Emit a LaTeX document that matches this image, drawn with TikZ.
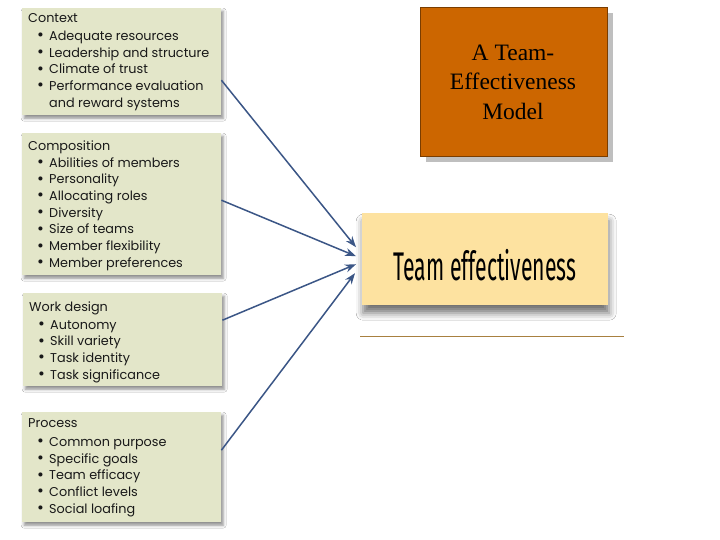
\documentclass[tikz,border=0pt]{standalone}
\usepackage{fontspec}
\usepackage{graphicx}
\setmainfont{Liberation Serif}
\newfontfamily\boxfont{Poppins}
\newfontfamily\tefont{Fira Sans}
\usetikzlibrary{shadows,shadows.blur,arrows.meta,calc}
\definecolor{gboxc}{HTML}{E3E6C9}
\definecolor{tebox}{HTML}{FDE2A0}
\definecolor{titlec}{HTML}{CC6600}
\definecolor{titleb}{HTML}{7A3D00}
\definecolor{arrc}{HTML}{3B5686}
\definecolor{rulec}{HTML}{A88040}
\newcommand\itm[1]{\hspace*{9pt}\makebox[12pt][l]{\raisebox{-0.4pt}{\scalebox{1.3}{\textbullet}}}#1}
\newcommand\cnt[1]{\hspace*{21pt}#1}
\begin{document}
\begin{tikzpicture}[x=1pt,y=-1pt,
  gbox/.style={rectangle,fill=gboxc,inner sep=0pt,anchor=north west,
    blur shadow={shadow xshift=2pt,shadow yshift=-3pt,shadow blur radius=3pt,shadow opacity=45}},
  gtext/.style={anchor=north west,inner sep=0pt,align=left,text=black!90,
    font=\boxfont\fontsize{12.8}{16.7}\selectfont},
  arr/.style={draw=arrc,line width=1.5pt,-{Stealth[length=11pt,width=8pt]}}]
\useasboundingbox (0,0) rectangle (720,540);
\fill[white] (0,0) rectangle (720,540);
% title box
\fill[black!25] (426,13) rectangle (613,162);
\node[rectangle,fill=titlec,draw=titleb,line width=0.6pt,anchor=north west,
  minimum width=187pt,minimum height=149pt,inner sep=0pt] (title) at (420,7) {};
\node[align=center,font=\fontsize{23.5}{29.5}\selectfont,text=black] (titletext) at (513,82) {A Team-\\Effectiveness\\Model};
% team effectiveness
\node[rectangle,fill=tebox,anchor=north west,minimum width=246pt,minimum height=92pt,inner sep=0pt,
  blur shadow={shadow xshift=1pt,shadow yshift=-8pt,shadow blur radius=7pt,shadow opacity=55}] (te) at (362,213) {};
\node[inner sep=0pt,text=black] (tetext) at (485,265) {\scalebox{0.53}[1]{\tefont\fontsize{40}{40}\selectfont Team effectiveness}};
\draw[rulec,line width=0.8pt] (360,336) coordinate (r1) -- (624,336) coordinate (r2);
% boxes
\node[gbox,minimum width=199pt,minimum height=107pt] (ctx) at (22,8) {};
\node[gtext] (ctxt) at (28,13.2) {Context\\[1.3pt]\itm{Adequate resources}\\\itm{Leadership and structure}\\\itm{Climate of trust}\\\itm{Performance evaluation}\\\cnt{and reward systems}};
\node[gbox,minimum width=199pt,minimum height=142pt] (comp) at (22,133) {};
\node[gtext] (compt) at (28,140.2) {Composition\\[0.3pt]\itm{Abilities of members}\\\itm{Personality}\\\itm{Allocating roles}\\\itm{Diversity}\\\itm{Size of teams}\\\itm{Member flexibility}\\\itm{Member preferences}};
\node[gbox,minimum width=199pt,minimum height=93pt] (wd) at (23,293) {};
\node[gtext] (wdt) at (29,301.2) {Work design\\[1.3pt]\itm{Autonomy}\\\itm{Skill variety}\\\itm{Task identity}\\\itm{Task significance}};
\node[gbox,minimum width=199pt,minimum height=110pt] (proc) at (22,412) {};
\node[gtext] (proct) at (28,418.2) {Process\\[2.3pt]\itm{Common purpose}\\\itm{Specific goals}\\\itm{Team efficacy}\\\itm{Conflict levels}\\\itm{Social loafing}};
% arrows
\draw[arr] ([yshift=-18.5pt]ctx.east) -- ([xshift=-6pt,yshift=12pt]te.west);
\draw[arr] ([yshift=4pt]comp.east) -- ([xshift=-6pt,yshift=3pt]te.west);
\draw[arr] ([yshift=19.5pt]wd.east) -- ([xshift=-6pt,yshift=-5pt]te.west);
\draw[arr] ([yshift=17pt]proc.east) -- ([xshift=-7pt,yshift=-14pt]te.west);
\end{tikzpicture}
\end{document}
